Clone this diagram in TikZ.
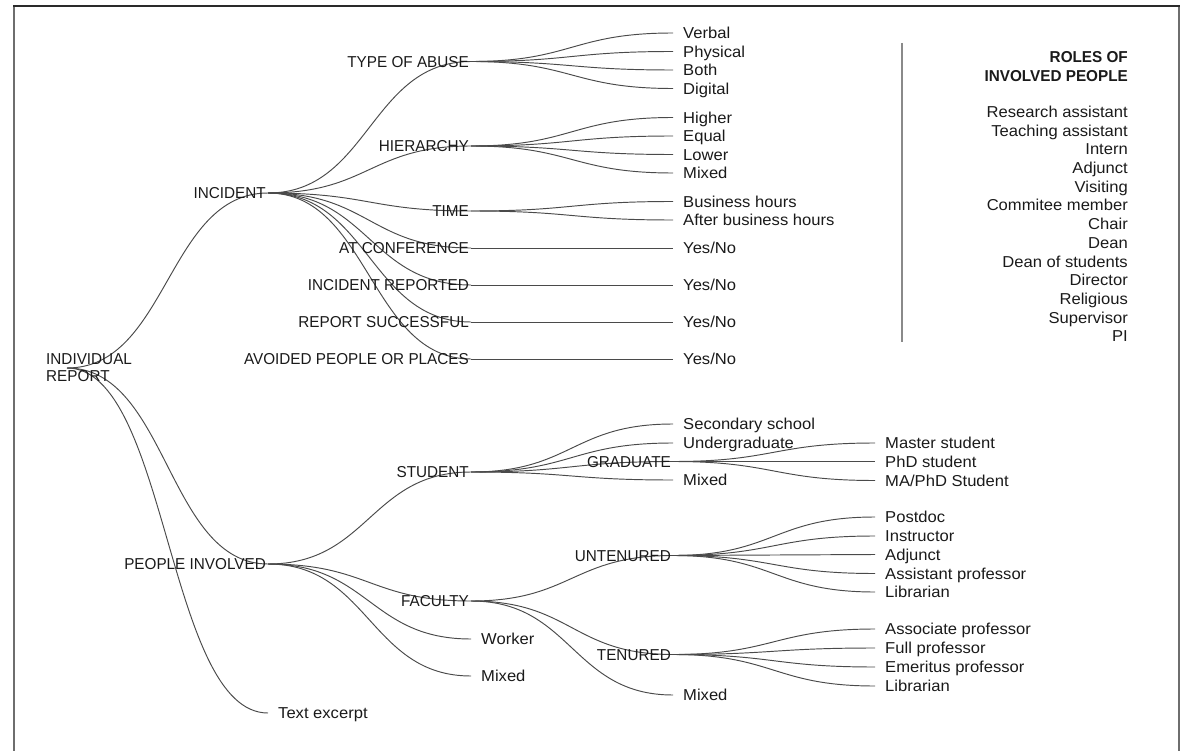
\documentclass[tikz,border=0pt]{standalone}
\usepackage{fontspec}
\setmainfont{Liberation Sans}
\newfontfamily\lcfont[FakeStretch=1.05]{Liberation Sans}
\newfontfamily\ucfont[FakeStretch=0.967]{Liberation Sans}
\definecolor{linkc}{HTML}{4A4A4A}
\definecolor{txtc}{HTML}{1A1A1A}
\definecolor{framegray}{HTML}{6E6E6E}
\definecolor{framedark}{HTML}{2A2A2A}
\definecolor{sepc}{HTML}{8A8A8A}
\newcommand\lnk[2]{\draw[link] (#1) .. controls +(101,0) and +(-101,0) .. (#2);}
\begin{document}
\begin{tikzpicture}[x=1pt,y=-1pt,
  link/.style={draw=linkc, line width=0.95pt},
  lab/.style={inner sep=0pt, text=txtc},
  inl/.style={lab, font=\ucfont\fontsize{15.8}{18}\selectfont, anchor=base east, xshift=-2pt, yshift=-5.6pt},
  lfl/.style={lab, font=\lcfont\fontsize{15.8}{18}\selectfont, anchor=base west, xshift=10pt, yshift=-5.6pt},
  rl/.style={lab, font=\lcfont\fontsize{15.8}{18}\selectfont, anchor=base east},
  ttl/.style={lab, font=\ucfont\fontsize{15.8}{18}\selectfont\bfseries, anchor=base east}]
\useasboundingbox (0,0) rectangle (1182,751);
% frame
\draw[framegray, line width=2pt] (14,751) -- (14,6);
\draw[framegray, line width=2pt] (1179,6) -- (1179,751);
\draw[framedark, line width=1.6pt] (13,6) -- (1180,6);
% tree points
\coordinate (R) at (67,368);
\coordinate (INC) at (268,193);
\coordinate (PPL) at (268,564);
\coordinate (TXT) at (268,713);
\coordinate (TOA) at (471,61.5);
\coordinate (HIE) at (471,146);
\coordinate (TIM) at (471,211);
\coordinate (ATC) at (471,248);
\coordinate (IRP) at (471,285);
\coordinate (RSU) at (471,322);
\coordinate (AVO) at (471,359);
\coordinate (STU) at (471,472);
\coordinate (FAC) at (471,601);
\coordinate (WRK) at (471,639);
\coordinate (PMX) at (471,676);
\coordinate (VER) at (673,33);
\coordinate (PHY) at (673,51.5);
\coordinate (BOT) at (673,70);
\coordinate (DIG) at (673,88.5);
\coordinate (HIG) at (673,117.5);
\coordinate (EQU) at (673,136);
\coordinate (LOW) at (673,154.5);
\coordinate (HMX) at (673,173);
\coordinate (BUS) at (673,201.5);
\coordinate (AFT) at (673,220);
\coordinate (YN1) at (673,248);
\coordinate (YN2) at (673,285);
\coordinate (YN3) at (673,322);
\coordinate (YN4) at (673,359);
\coordinate (SEC) at (673,424);
\coordinate (UND) at (673,443);
\coordinate (GRA) at (673,461.5);
\coordinate (SMX) at (673,480);
\coordinate (UNT) at (673,555.5);
\coordinate (TEN) at (673,654.5);
\coordinate (FMX) at (673,695);
\coordinate (MAS) at (875,443);
\coordinate (PHD) at (875,461.5);
\coordinate (MAP) at (875,480.5);
\coordinate (POS) at (875,517);
\coordinate (INS) at (875,536);
\coordinate (ADJ) at (875,554.5);
\coordinate (ASP) at (875,573.5);
\coordinate (LI1) at (875,592);
\coordinate (ASO) at (875,629);
\coordinate (FUL) at (875,648);
\coordinate (EME) at (875,667);
\coordinate (LI2) at (875,686);
% links
\lnk{R}{INC}\lnk{R}{PPL}\lnk{R}{TXT}
\lnk{INC}{TOA}\lnk{INC}{HIE}\lnk{INC}{TIM}\lnk{INC}{ATC}\lnk{INC}{IRP}\lnk{INC}{RSU}\lnk{INC}{AVO}
\lnk{PPL}{STU}\lnk{PPL}{FAC}\lnk{PPL}{WRK}\lnk{PPL}{PMX}
\lnk{TOA}{VER}\lnk{TOA}{PHY}\lnk{TOA}{BOT}\lnk{TOA}{DIG}
\lnk{HIE}{HIG}\lnk{HIE}{EQU}\lnk{HIE}{LOW}\lnk{HIE}{HMX}
\lnk{TIM}{BUS}\lnk{TIM}{AFT}
\lnk{ATC}{YN1}\lnk{IRP}{YN2}\lnk{RSU}{YN3}\lnk{AVO}{YN4}
\lnk{STU}{SEC}\lnk{STU}{UND}\lnk{STU}{GRA}\lnk{STU}{SMX}
\lnk{FAC}{UNT}\lnk{FAC}{TEN}\lnk{FAC}{FMX}
\lnk{GRA}{MAS}\lnk{GRA}{PHD}\lnk{GRA}{MAP}
\lnk{UNT}{POS}\lnk{UNT}{INS}\lnk{UNT}{ADJ}\lnk{UNT}{ASP}\lnk{UNT}{LI1}
\lnk{TEN}{ASO}\lnk{TEN}{FUL}\lnk{TEN}{EME}\lnk{TEN}{LI2}
% labels
\node[lab, font=\ucfont\fontsize{15.8}{18}\selectfont, anchor=base west] (lR1) at (46,364.5) {INDIVIDUAL};
\node[lab, font=\ucfont\fontsize{15.8}{18}\selectfont, anchor=base west] (lR2) at (46,381.5) {REPORT};
\node[inl] (lINC) at (INC) {INCIDENT};
\node[inl] (lPPL) at (PPL) {PEOPLE INVOLVED};
\node[lfl] (lTXT) at (TXT) {Text excerpt};
\node[inl] (lTOA) at (TOA) {TYPE OF ABUSE};
\node[inl] (lHIE) at (HIE) {HIERARCHY};
\node[inl] (lTIM) at (TIM) {TIME};
\node[inl] (lATC) at (ATC) {AT CONFERENCE};
\node[inl] (lIRP) at (IRP) {INCIDENT REPORTED};
\node[inl] (lRSU) at (RSU) {REPORT SUCCESSFUL};
\node[inl] (lAVO) at (AVO) {AVOIDED PEOPLE OR PLACES};
\node[inl] (lSTU) at (STU) {STUDENT};
\node[inl] (lFAC) at (FAC) {FACULTY};
\node[lfl] (lWRK) at (WRK) {Worker};
\node[lfl] (lPMX) at (PMX) {Mixed};
\node[lfl] (lVER) at (VER) {Verbal};
\node[lfl] (lPHY) at (PHY) {Physical};
\node[lfl] (lBOT) at (BOT) {Both};
\node[lfl] (lDIG) at (DIG) {Digital};
\node[lfl] (lHIG) at (HIG) {Higher};
\node[lfl] (lEQU) at (EQU) {Equal};
\node[lfl] (lLOW) at (LOW) {Lower};
\node[lfl] (lHMX) at (HMX) {Mixed};
\node[lfl] (lBUS) at (BUS) {Business hours};
\node[lfl] (lAFT) at (AFT) {After business hours};
\node[lfl] (lYN1) at (YN1) {Yes/No};
\node[lfl] (lYN2) at (YN2) {Yes/No};
\node[lfl] (lYN3) at (YN3) {Yes/No};
\node[lfl] (lYN4) at (YN4) {Yes/No};
\node[lfl] (lSEC) at (SEC) {Secondary school};
\node[lfl] (lUND) at (UND) {Undergraduate};
\node[inl] (lGRA) at (GRA) {GRADUATE};
\node[lfl] (lSMX) at (SMX) {Mixed};
\node[inl] (lUNT) at (UNT) {UNTENURED};
\node[inl] (lTEN) at (TEN) {TENURED};
\node[lfl] (lFMX) at (FMX) {Mixed};
\node[lfl] (lMAS) at (MAS) {Master student};
\node[lfl] (lPHD) at (PHD) {PhD student};
\node[lfl] (lMAP) at (MAP) {MA/PhD Student};
\node[lfl] (lPOS) at (POS) {Postdoc};
\node[lfl] (lINS) at (INS) {Instructor};
\node[lfl] (lADJ) at (ADJ) {Adjunct};
\node[lfl] (lASP) at (ASP) {Assistant professor};
\node[lfl] (lLI1) at (LI1) {Librarian};
\node[lfl] (lASO) at (ASO) {Associate professor};
\node[lfl] (lFUL) at (FUL) {Full professor};
\node[lfl] (lEME) at (EME) {Emeritus professor};
\node[lfl] (lLI2) at (LI2) {Librarian};
% roles panel
\coordinate (sepTop) at (902,43);
\coordinate (sepBot) at (902,342);
\draw[sepc, line width=1.3pt] (sepTop) -- (sepBot);
\node[ttl] (t1) at (1128,62.5) {ROLES OF};
\node[ttl] (t2) at (1128,81.5) {INVOLVED PEOPLE};
\foreach \i/\t in {0/Research assistant,1/Teaching assistant,2/Intern,3/Adjunct,4/Visiting,5/Commitee member,6/Chair,7/Dean,8/Dean of students,9/Director,10/Religious,11/Supervisor,12/PI}
  \node[rl] (role\i) at (1128,{117.5+18.7*\i}) {\t};
\end{tikzpicture}
\end{document}
